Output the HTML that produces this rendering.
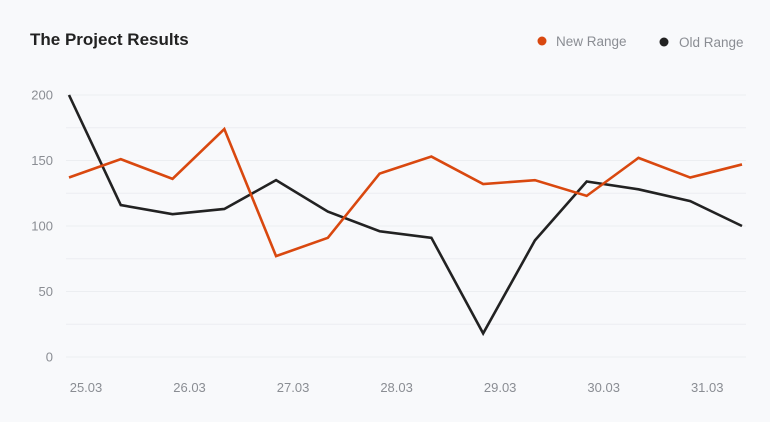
<!DOCTYPE html>
<html><head><meta charset="utf-8"><style>
body{margin:0;background:#f8f9fb;font-family:"Liberation Sans",sans-serif;}
svg{display:block}
</style></head><body>
<svg id="c" width="770" height="422">
<text x="30" y="45" font-size="17" font-weight="bold" fill="#222">The Project Results</text>
<g><circle cx="542" cy="41" r="4.5" fill="#d9480f"/><text x="556" y="46" font-size="13.5" fill="#8a8d93">New Range</text></g>
<g><circle cx="664" cy="42" r="4.5" fill="#222"/><text x="679" y="47" font-size="13.5" fill="#8a8d93">Old Range</text></g>
<g id="grid"></g><g id="yt"></g><g id="xt"></g><g id="series"></g>
</svg>
<script>
const categories=["25.03","26.03","27.03","28.03","29.03","30.03","31.03"];
const newRange=[137,151,136,174,77,91,140,153,132,135,123,152,137,147];
const oldRange=[200,116,109,113,135,111,96,91,18,89,134,128,119,100];
const yTicks=[0,50,100,150,200];
const ns="http://www.w3.org/2000/svg";
const y=v=>357-v*(262/200);
const x=i=>69+i*(673/13);
function mk(t,a,p){const e=document.createElementNS(ns,t);for(const k in a)e.setAttribute(k,a[k]);p.appendChild(e);return e;}
const g=document.getElementById('grid');
for(let v=0;v<=200;v+=25){const l=mk('line',{x1:66,x2:746,y1:y(v),y2:y(v),stroke:'#eceef1','stroke-width':1},g);

}
const yt=document.getElementById('yt');
yTicks.forEach(v=>{const t=mk('text',{x:53,y:y(v)+4.5,'font-size':13,fill:'#8a8d93','text-anchor':'end'},yt);t.textContent=v;

});
const xt=document.getElementById('xt');
categories.forEach((c,i)=>{const t=mk('text',{x:x(i*2)+17,y:392,'font-size':13,fill:'#8a8d93','text-anchor':'middle'},xt);t.textContent=c;

});
const s=document.getElementById('series');
[[oldRange,'#222','old-range-line'],[newRange,'#d9480f','new-range-line']].forEach(([d,col,n])=>{
const p=mk('polyline',{points:d.map((v,i)=>x(i)+','+y(v)).join(' '),fill:'none',stroke:col,'stroke-width':2.6,'stroke-linejoin':'miter'},s);

});
</script>
</body></html>
